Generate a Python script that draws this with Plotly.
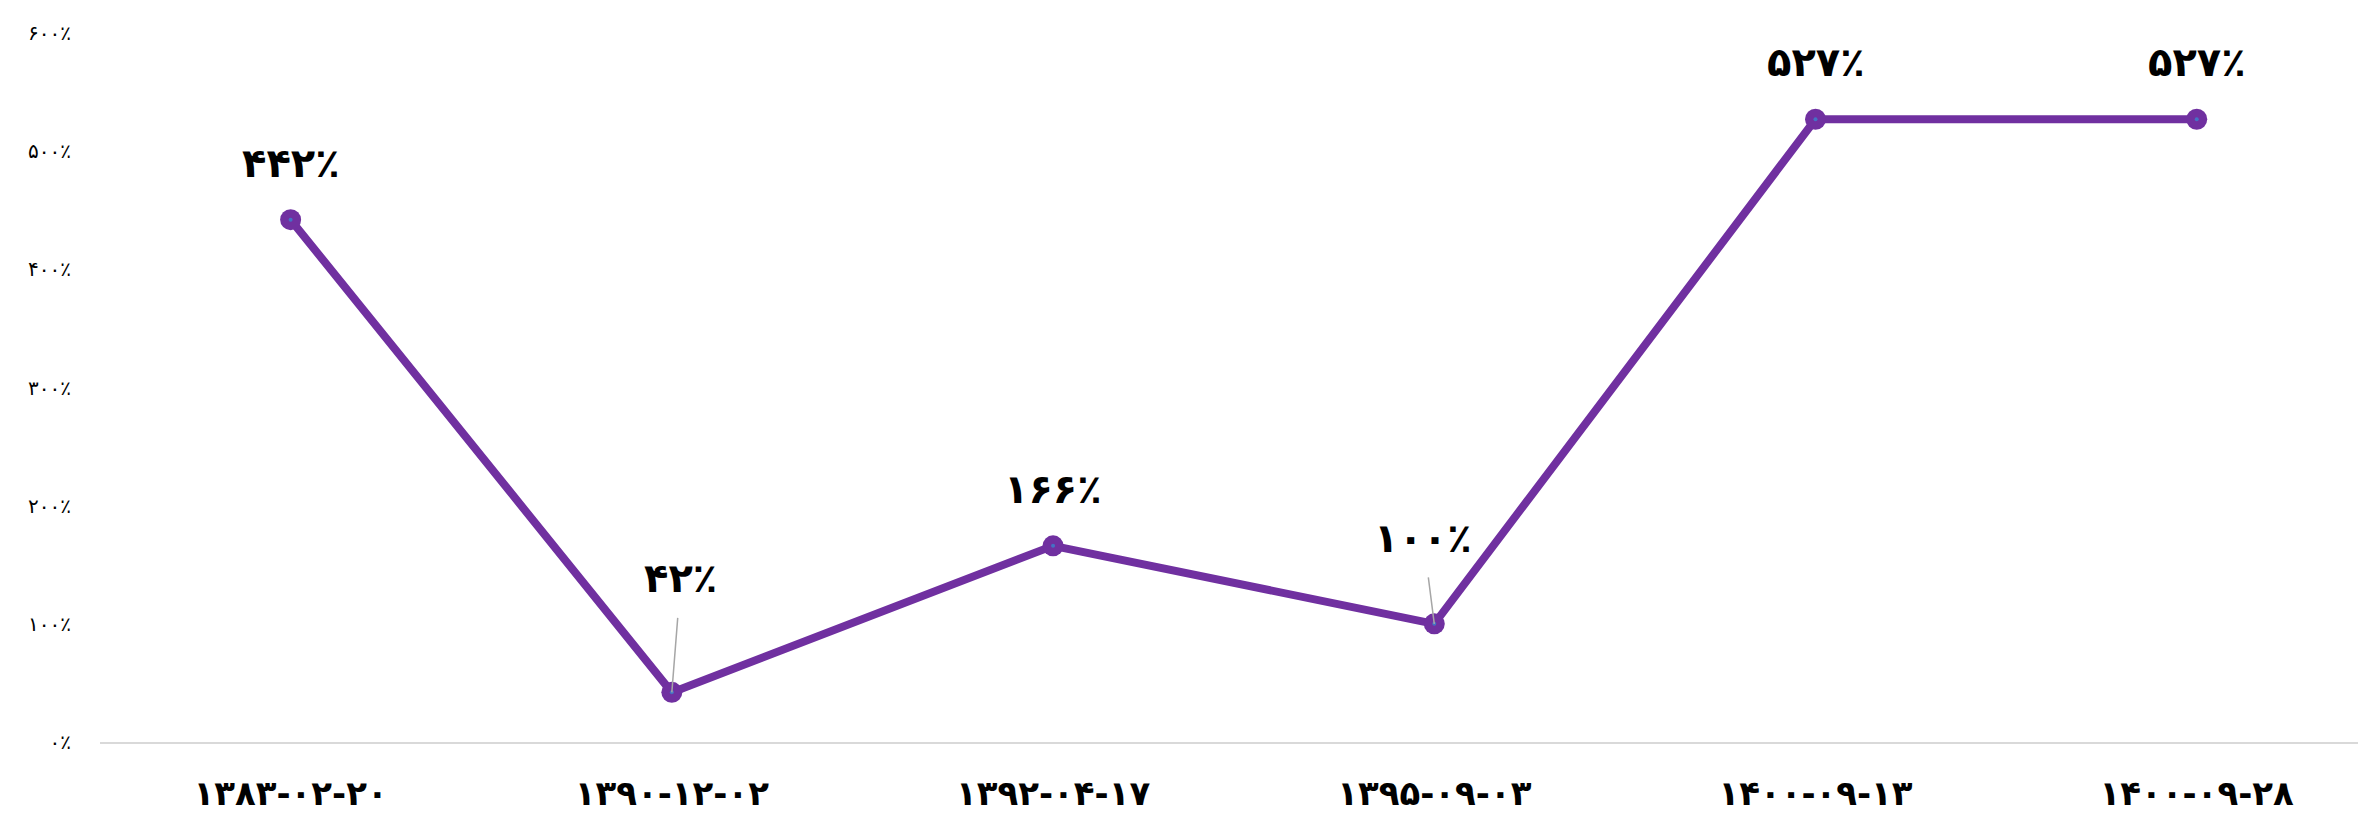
import plotly.graph_objects as go

# داده‌ها
dates = ['۱۳۸۳-۰۲-۲۰', '۱۳۹۰-۱۲-۰۲', '۱۳۹۲-۰۴-۱۷', '۱۳۹۵-۰۹-۰۳', '۱۴۰۰-۰۹-۱۳', '۱۴۰۰-۰۹-۲۸']
values = [442, 42, 166, 100, 527, 527]
labels = ['۴۴۲٪', '۴۲٪', '۱۶۶٪', '۱۰۰٪', '۵۲۷٪', '۵۲۷٪']
tick_vals = [0, 100, 200, 300, 400, 500, 600]
tick_text = ['۰٪', '۱۰۰٪', '۲۰۰٪', '۳۰۰٪', '۴۰۰٪', '۵۰۰٪', '۶۰۰٪']

purple = '#7030A0'
font_fa = 'DejaVu Sans'

fig = go.Figure()
fig.add_trace(go.Scatter(x=dates, y=values, mode='lines+markers',
                         line=dict(color=purple, width=8),
                         marker=dict(color=purple, size=21),
                         hoverinfo='skip'))
# نقطه آبی کوچک وسط مارکرها
fig.add_trace(go.Scatter(x=dates, y=values, mode='markers',
                         marker=dict(color='#4472C4', size=4),
                         hoverinfo='skip'))

# برچسب‌ها: بعضی با خط راهنما
label_font = dict(family=font_fa, size=40, color='black', weight='bold')
leader = {1: (9, -114), 3: (-11, -86)}
for i, (d, v, t) in enumerate(zip(dates, values, labels)):
    if i in leader:
        ax, ay = leader[i]
        fig.add_annotation(x=d, y=v, text=t, showarrow=True, arrowhead=0,
                           arrowwidth=1.5, arrowcolor='#a6a6a6', ax=ax, ay=ay,
                           borderpad=16, font=label_font)
    else:
        fig.add_annotation(x=d, y=v, text=t, showarrow=False, yshift=57,
                           font=label_font)

fig.update_layout(
    width=2366, height=816,
    paper_bgcolor='white', plot_bgcolor='white',
    showlegend=False,
    margin=dict(l=92, r=0, t=25, b=82),
    xaxis=dict(type='category', range=[-0.5, 5.465], showgrid=False,
               showline=True, linecolor='#d9d9d9', linewidth=2,
               ticks='', ticklabelstandoff=20, automargin=False,
               tickfont=dict(family=font_fa, size=34, color='black', weight='bold')),
    yaxis=dict(range=[0, 600], tickvals=tick_vals, ticktext=tick_text,
               showgrid=False, zeroline=False, showline=False, ticks='',
               ticklabelstandoff=28, automargin=False,
               tickfont=dict(family=font_fa, size=20, color='black')),
)
fig.write_html("out.html")
